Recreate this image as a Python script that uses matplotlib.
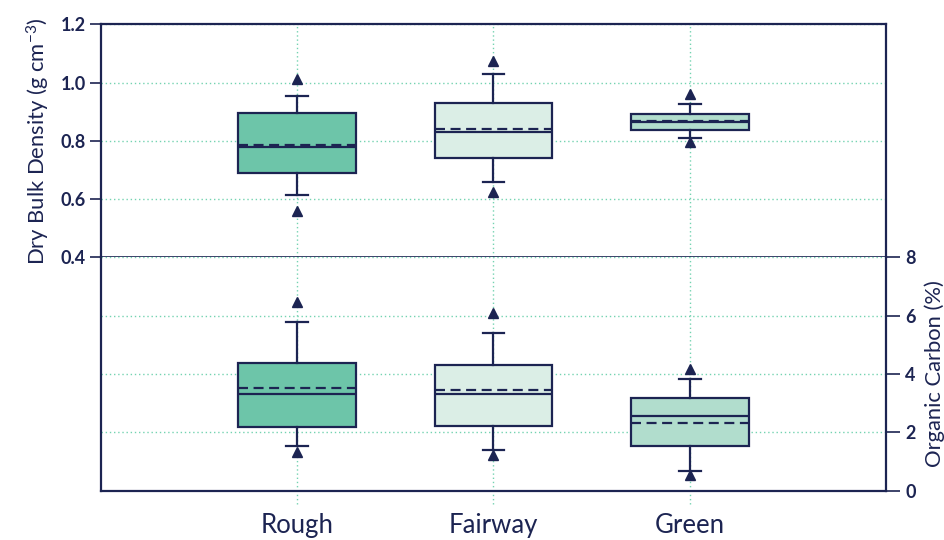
import matplotlib

matplotlib.use("Agg")
import matplotlib.pyplot as plt

CATEGORIES = ["Rough", "Fairway", "Green"]

# dry bulk density (g cm-3)
BD_WHISLO = [0.614, 0.657, 0.809]
BD_Q1 = [0.690, 0.742, 0.837]
BD_MED = [0.780, 0.829, 0.864]
BD_MEAN = [0.785, 0.840, 0.867]
BD_Q3 = [0.894, 0.929, 0.892]
BD_WHISHI = [0.955, 1.030, 0.927]
BD_FLIERS = [[0.560, 1.011], [0.625, 1.075], [0.795, 0.960]]

# organic carbon (%)
OC_WHISLO = [1.54, 1.39, 0.68]
OC_Q1 = [2.18, 2.22, 1.53]
OC_MED = [3.31, 3.32, 2.57]
OC_MEAN = [3.53, 3.45, 2.33]
OC_Q3 = [4.36, 4.29, 3.17]
OC_WHISHI = [5.79, 5.40, 3.83]
OC_FLIERS = [[1.31, 6.47], [1.22, 6.10], [0.54, 4.16]]

NAVY = "#1c2452"
GRID = "#74d3b1"
FILLS = ["#6dc5a9", "#dbeee6", "#b1ddcd"]
FONT = "Lato"

plt.rcParams["font.family"] = [FONT, "DejaVu Sans"]
plt.rcParams["mathtext.fontset"] = "custom"
plt.rcParams["mathtext.rm"] = FONT
plt.rcParams["mathtext.it"] = FONT


def make_stats(whislo, q1, med, mean, q3, whishi, fliers):
    return [
        {
            "label": cat,
            "whislo": whislo[i],
            "q1": q1[i],
            "med": med[i],
            "mean": mean[i],
            "q3": q3[i],
            "whishi": whishi[i],
            "fliers": fliers[i],
        }
        for i, cat in enumerate(CATEGORIES)
    ]


def draw_boxes(ax, stats):
    positions = list(range(1, len(stats) + 1))
    parts = ax.bxp(
        stats,
        positions=positions,
        widths=0.6,
        capwidths=0.11,
        patch_artist=True,
        showmeans=True,
        meanline=True,
        boxprops=dict(edgecolor=NAVY, linewidth=1.6),
        medianprops=dict(color=NAVY, linewidth=1.6),
        meanprops=dict(color=NAVY, linewidth=1.6, linestyle=(0, (4.5, 2.5))),
        whiskerprops=dict(color=NAVY, linewidth=1.6),
        capprops=dict(color=NAVY, linewidth=1.6),
        flierprops=dict(marker="^", markerfacecolor=NAVY, markeredgecolor=NAVY,
                        markersize=7, linestyle="none"),
        zorder=3,
    )
    for patch, color in zip(parts["boxes"], FILLS):
        patch.set_facecolor(color)
    for x in positions:
        ax.axvline(x, color=GRID, linestyle=(0, (1, 2)), linewidth=1.0, zorder=1)


fig = plt.figure(figsize=(9.44, 5.4), dpi=100)
ax_top = fig.add_axes([0.107, 0.5235, 0.8315, 0.4315])
ax_bot = fig.add_axes([0.107, 0.0915, 0.8315, 0.432])

draw_boxes(ax_top, make_stats(BD_WHISLO, BD_Q1, BD_MED, BD_MEAN, BD_Q3,
                              BD_WHISHI, BD_FLIERS))
draw_boxes(ax_bot, make_stats(OC_WHISLO, OC_Q1, OC_MED, OC_MEAN, OC_Q3,
                              OC_WHISHI, OC_FLIERS))

for ax in (ax_top, ax_bot):
    ax.set_xlim(0, 4)
    for side in ax.spines.values():
        side.set_color(NAVY)
        side.set_linewidth(1.6)
    ax.grid(axis="y", color=GRID, linestyle=(0, (1, 2)), linewidth=1.0, zorder=1)
    ax.set_axisbelow(True)

# top panel: bulk density on the left
ax_top.set_ylim(0.4, 1.2)
ax_top.set_yticks([0.4, 0.6, 0.8, 1.0, 1.2])
ax_top.set_yticklabels(["0.4", "0.6", "0.8", "1.0", "1.2"])
ax_top.tick_params(axis="y", length=8, width=1.2, color=NAVY, labelcolor=NAVY,
                   labelsize=13, pad=3)
ax_top.tick_params(axis="x", bottom=False, labelbottom=False)
ax_top.spines["bottom"].set_linewidth(1.2)
for lbl in ax_top.get_yticklabels():
    lbl.set_fontweight("bold")
ax_top.set_ylabel("Dry Bulk Density (g cm$^{-3}$)", fontsize=15.8, color=NAVY,
                  labelpad=6)

# bottom panel: organic carbon on the right
ax_bot.set_ylim(0, 8)
ax_bot.set_yticks([0, 2, 4, 6, 8])
ax_bot.yaxis.tick_right()
ax_bot.yaxis.set_label_position("right")
ax_bot.tick_params(axis="y", length=10, width=1.2, color=NAVY, labelcolor=NAVY,
                   labelsize=13, pad=4)
ax_bot.spines["top"].set_visible(False)
for lbl in ax_bot.get_yticklabels():
    lbl.set_fontweight("bold")
ax_bot.set_ylabel("Organic Carbon (%)", fontsize=15.8, color=NAVY, labelpad=6)
ax_bot.set_xticks(range(1, len(CATEGORIES) + 1))
ax_bot.set_xticklabels(CATEGORIES, fontsize=18.5, color=NAVY)
ax_bot.tick_params(axis="x", length=0, pad=16)

# vertical guides run a little past the bottom spine
for x in range(1, len(CATEGORIES) + 1):
    ax_bot.plot([x, x], [-0.45, 0], color=GRID, linestyle=(0, (1, 2)),
                linewidth=1.0, clip_on=False, zorder=1)

fig.savefig("out.png", dpi=100)
